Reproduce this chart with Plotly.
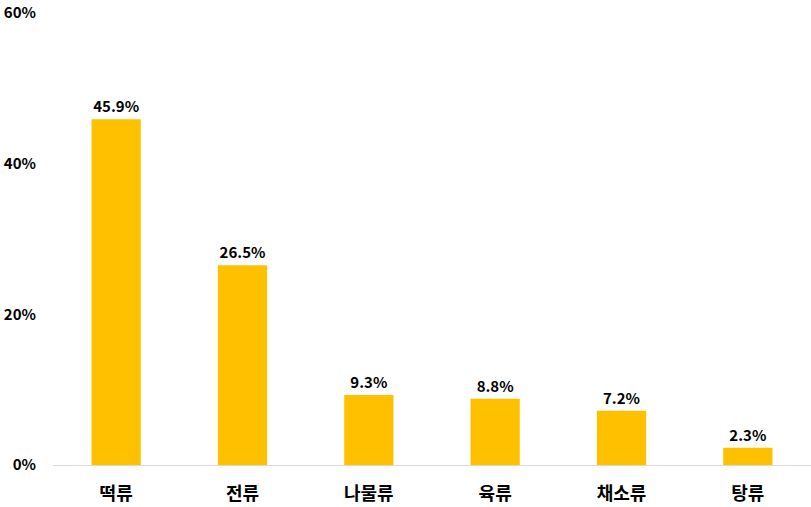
import plotly.graph_objects as go

categories = ["떡류", "전류", "나물류", "육류", "채소류", "탕류"]
shares = [45.9, 26.5, 9.3, 8.8, 7.2, 2.3]
y_ticks = [0, 20, 40, 60]
y_tick_labels = ["0%", "20%", "40%", "60%"]

FONT = "Noto Sans CJK KR"

fig = go.Figure()
fig.add_trace(
    go.Bar(
        x=categories,
        y=shares,
        marker=dict(color="#FFC000", line=dict(width=0)),
        text=[f"<b>{v:.1f}%</b>" for v in shares],
        textposition="outside",
        textfont=dict(family=FONT, size=15, color="black"),
        cliponaxis=False,
    )
)

fig.update_layout(
    width=811,
    height=507,
    margin=dict(l=53, r=0, t=13, b=42),
    paper_bgcolor="white",
    plot_bgcolor="white",
    bargap=0.61,
    showlegend=False,
    font=dict(family=FONT, color="black"),
)

fig.update_xaxes(
    showline=True,
    linecolor="#D9D9D9",
    linewidth=1,
    showgrid=False,
    ticks="",
    tickfont=dict(family=FONT, size=18, color="black", weight="bold"),
    ticklabelstandoff=12,
)

fig.update_yaxes(
    range=[0, 60],
    tickvals=y_ticks,
    ticktext=y_tick_labels,
    showgrid=False,
    zeroline=False,
    showline=False,
    ticks="",
    tickfont=dict(family=FONT, size=15, color="black", weight="bold"),
    ticklabelstandoff=16,
)

# drop the default 8px body margin so the figure sits flush in the window
fig.write_html(
    "out.html",
    config={"displayModeBar": False},
    post_script="document.body.style.margin='0';",
)
